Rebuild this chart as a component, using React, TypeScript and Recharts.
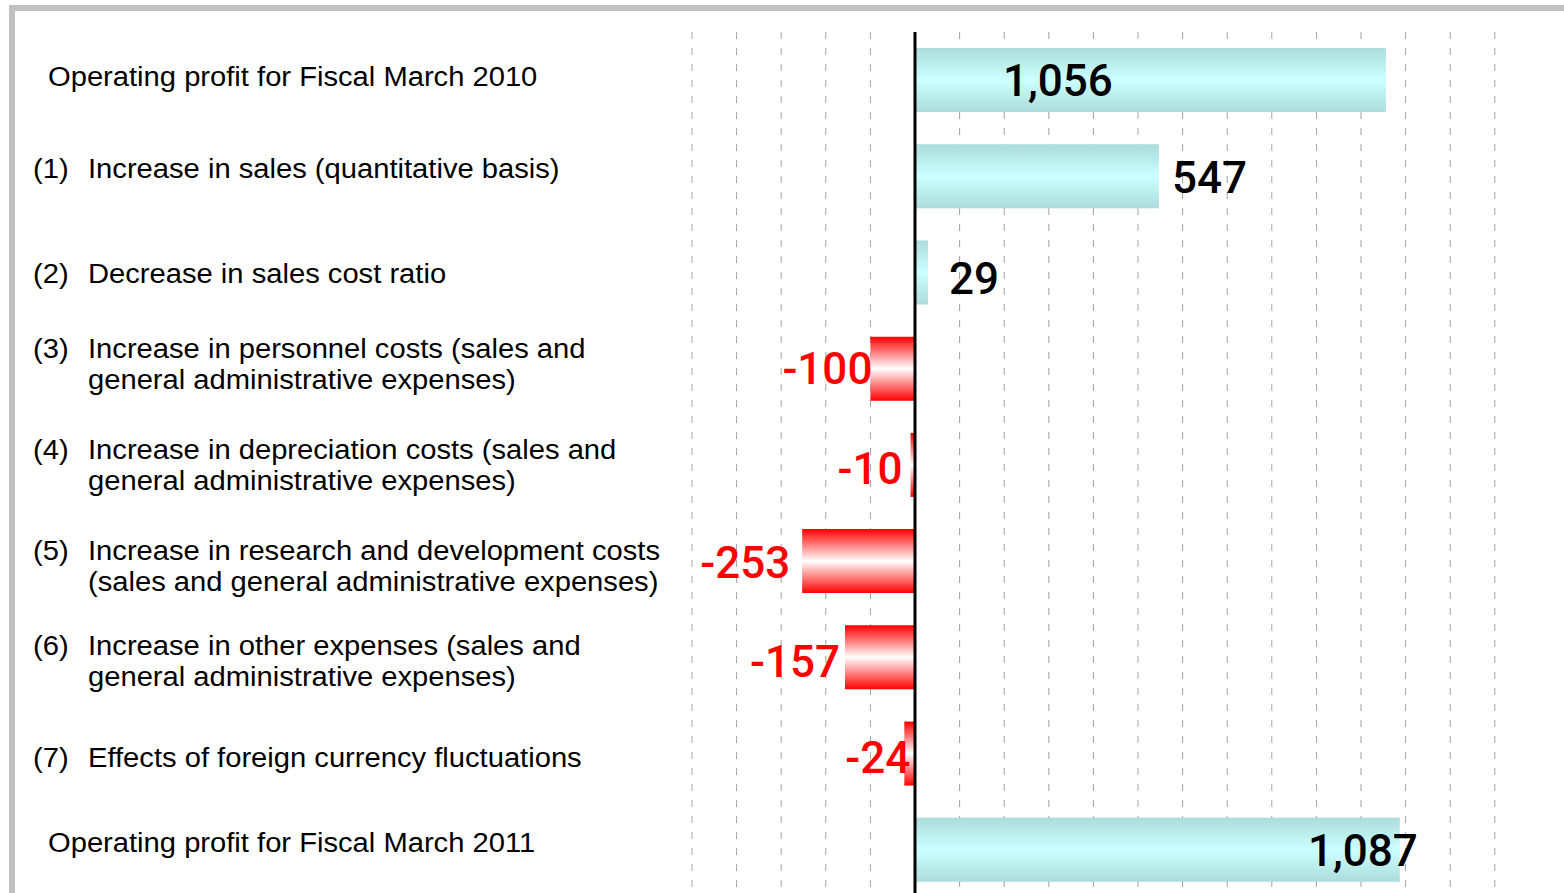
import { BarChart, Bar, XAxis, YAxis, CartesianGrid, Cell, LabelList, ReferenceLine } from 'recharts';

const categories = [
  'Operating profit for Fiscal March 2010',
  'Increase in sales (quantitative basis)',
  'Decrease in sales cost ratio',
  'Increase in personnel costs (sales and\ngeneral administrative expenses)',
  'Increase in depreciation costs (sales and\ngeneral administrative expenses)',
  'Increase in research and development costs\n(sales and general administrative expenses)',
  'Increase in other expenses (sales and\ngeneral administrative expenses)',
  'Effects of foreign currency fluctuations',
  'Operating profit for Fiscal March 2011',
];
const itemNumbers = ['', '(1)', '(2)', '(3)', '(4)', '(5)', '(6)', '(7)', ''];
const values = [1056, 547, 29, -100, -10, -253, -157, -24, 1087];
const xTicks = [-500, -400, -300, -200, -100, 0, 100, 200, 300, 400, 500, 600, 700, 800, 900, 1000, 1100, 1200, 1300, 1400, 1500];

// small per-row nudges so the text sits where the slide put it
const catLabelDy = [-3, -7, 1, -4.5, 0, 5.5, 3.5, 4, -7];
const valueLabelDx = [88, 13, 21, 2, -8, -12, -5, 6, 18];
const valueLabelDy = [1, 2, 7, 0, 4.5, 2, 5, 4, 1];

const data = categories.map((name, i) => ({ name, num: itemNumbers[i], value: values[i], total: i === 0 || i === categories.length - 1 }));

const LABEL_FONT = 'Liberation Sans, Arial, sans-serif';
const VALUE_FONT = 'Roboto, sans-serif';

function CategoryTick(props: any) {
  const { y, payload, index } = props;
  const row = data[index];
  const lines = String(payload.value).split('\n');
  const lh = 31;
  const startY = y - ((lines.length - 1) * lh) / 2 + (catLabelDy[index] || 0);
  const textX = row && row.total ? 48 : 88;
  return (
    <g>
      {row && row.num ? (
        <g transform={`translate(33,${startY}) scale(1.08,1)`}>
          <text x={0} y={0} dominantBaseline="central" fontSize={27} fontFamily={LABEL_FONT} fill="#000">{row.num}</text>
        </g>
      ) : null}
      {lines.map((l, i) => (
        <g key={i} transform={`translate(${textX},${startY + i * lh}) scale(1.08,1)`}>
          <text x={0} y={0} dominantBaseline="central" fontSize={27} fontFamily={LABEL_FONT} fill="#000">{l}</text>
        </g>
      ))}
    </g>
  );
}

function ValueLabel(props: any) {
  const { x, y, width, height, value, index } = props;
  const cy = y + height / 2 + valueLabelDy[index];
  const label = value < 0 ? '-' + Math.abs(value) : value.toLocaleString('en-US');
  const dx = valueLabelDx[index];
  let tx = x + width + dx;
  let anchor: 'start' | 'end' = 'start';
  let fill = '#000';
  if (value < 0) {
    const left = Math.min(x, x + width);
    tx = left + dx;
    anchor = 'end';
    fill = '#ff0000';
  } else if (index === 0) {
    tx = x + dx;
  } else if (index === data.length - 1) {
    anchor = 'end';
  }
  return (
    <text x={tx} y={cy} textAnchor={anchor} dominantBaseline="central" fontSize={44} fontWeight={500} fontFamily={VALUE_FONT} fill={fill}>
      {label}
    </text>
  );
}

export default function App() {
  return (
    <div style={{ position: 'absolute', left: 0, top: 0, width: 1564, height: 893, overflow: 'hidden', background: '#fff' }}>
      <div style={{ position: 'absolute', left: 9, top: 5, right: 0, bottom: 0, borderTop: '6px solid #c0c0c0', borderLeft: '6px solid #c0c0c0' }} />
      <div style={{ position: 'absolute', left: 0, top: 0 }}>
        <BarChart width={1584} height={898} data={data} layout="vertical" margin={{ top: 32, right: 0, left: 0, bottom: 0 }}>
          <defs>
            <linearGradient id="blueGrad" x1="0" y1="0" x2="0" y2="1">
              <stop offset="0%" stopColor="#acdcdc" />
              <stop offset="50%" stopColor="#ccffff" />
              <stop offset="100%" stopColor="#acdcdc" />
            </linearGradient>
            <linearGradient id="redGrad" x1="0" y1="0" x2="0" y2="1">
              <stop offset="0%" stopColor="#ff0000" />
              <stop offset="50%" stopColor="#ffffff" />
              <stop offset="100%" stopColor="#ff0000" />
            </linearGradient>
          </defs>
          <CartesianGrid horizontal={false} stroke="#a0a0a0" strokeDasharray="7 9" />
          <XAxis type="number" domain={[-500, 1500]} ticks={xTicks} hide allowDataOverflow />
          <YAxis type="category" dataKey="name" width={692} axisLine={false} tickLine={false} tick={<CategoryTick />} interval={0} />
          <Bar dataKey="value" barSize={64} isAnimationActive={false}>
            {data.map((d, i) => (
              <Cell key={i} fill={d.value < 0 ? 'url(#redGrad)' : 'url(#blueGrad)'} />
            ))}
            <LabelList dataKey="value" content={<ValueLabel />} />
          </Bar>
          <ReferenceLine x={0} stroke="#000" strokeWidth={3} />
        </BarChart>
      </div>
    </div>
  );
}
